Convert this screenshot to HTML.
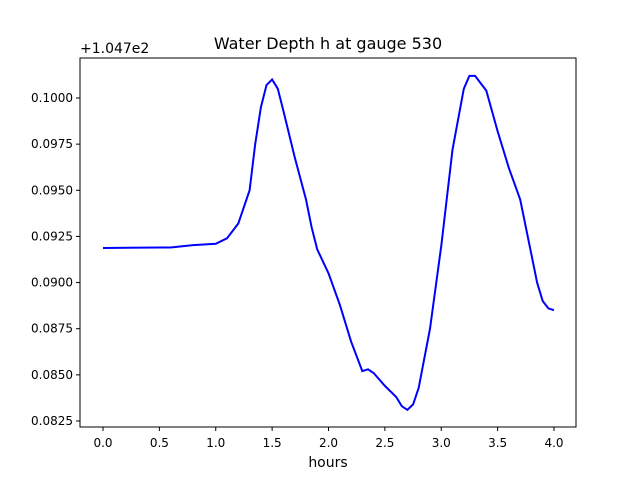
<!DOCTYPE html>
<html><head><meta charset="utf-8"><style>
body{margin:0;background:#fff}
svg{font-family:"DejaVu Sans","Liberation Sans",sans-serif}
</style></head><body>
<svg id="chart" width="640" height="480">
<rect x="0" y="0" width="640" height="480" fill="#fff"/>
<text x="328" y="49" text-anchor="middle" font-size="16">Water Depth h at gauge 530</text>
<text x="80" y="53" font-size="14">+1.047e2</text>
<text x="328" y="467" text-anchor="middle" font-size="14">hours</text>
<g id="ticks"></g>
<path id="line" fill="none" stroke="#0000ff" stroke-width="2"/>
<rect x="80" y="58" width="496" height="369" fill="none" stroke="#000" stroke-width="1"/>
</svg>
<script>
const hours=[0.0,0.5,0.6,0.8,1.0,1.1,1.2,1.3,1.35,1.4,1.45,1.5,1.55,1.6,1.7,1.8,1.85,1.9,2.0,2.1,2.2,2.3,2.35,2.4,2.5,2.6,2.65,2.7,2.75,2.8,2.9,3.0,3.1,3.2,3.25,3.3,3.4,3.5,3.6,3.7,3.8,3.85,3.9,3.95,4.0];
const depth=[0.09187,0.0919,0.0919,0.09203,0.0921,0.0924,0.0932,0.0950,0.0975,0.0995,0.1007,0.1010,0.1005,0.0993,0.0968,0.0945,0.0930,0.0918,0.0905,0.0888,0.0868,0.0852,0.0853,0.0851,0.0844,0.0838,0.0833,0.0831,0.0834,0.0843,0.0875,0.0920,0.0972,0.1005,0.1012,0.1012,0.1004,0.0982,0.0962,0.0945,0.0915,0.0900,0.0890,0.0886,0.0885];
const xTicks=[0,0.5,1,1.5,2,2.5,3,3.5,4];
const yTicks=[0.0825,0.085,0.0875,0.09,0.0925,0.095,0.0975,0.1];
const X=v=>103+v*112.75;
const Y=v=>98+(0.1-v)/0.0025*46.14;
const NS="http://www.w3.org/2000/svg";
const g=document.getElementById('ticks');
function mk(t,a){const e=document.createElementNS(NS,t);for(const k in a)e.setAttribute(k,a[k]);g.appendChild(e);return e;}
xTicks.forEach(v=>{
 const l=mk('line',{x1:X(v),x2:X(v),y1:427,y2:431,stroke:'#000'});
 
 
 const t=mk('text',{x:X(v),y:447,'text-anchor':'middle','font-size':12});
 t.textContent=v.toFixed(1);
 
 
});
yTicks.forEach(v=>{
 const l=mk('line',{x1:76,x2:80,y1:Y(v),y2:Y(v),stroke:'#000'});
 
 
 const t=mk('text',{x:73,y:Y(v)+4,'text-anchor':'end','font-size':12});
 t.textContent=v.toFixed(4);
 
 
});
document.getElementById('line').setAttribute('d',hours.map((h,i)=>(i?'L':'M')+X(h).toFixed(1)+','+Y(depth[i]).toFixed(1)).join(''));
</script>
</body></html>
